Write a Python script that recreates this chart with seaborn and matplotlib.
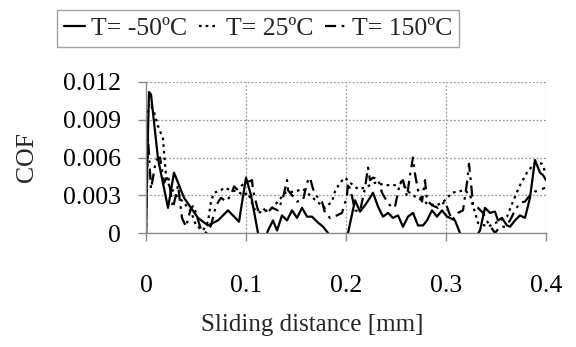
import numpy as np
import pandas as pd
import matplotlib
matplotlib.use("Agg")
import matplotlib.pyplot as plt
import seaborn as sns

sns.set_theme(style='ticks')
plt.rcParams['font.family'] = ['Liberation Serif', 'DejaVu Serif']

# COF vs sliding distance
x_m50 = [0.000, 0.001, 0.003, 0.005, 0.012, 0.022, 0.028, 0.038, 0.052, 0.062, 0.072,
         0.082, 0.093, 0.100, 0.105, 0.112, 0.117, 0.122, 0.127, 0.131, 0.136, 0.141,
         0.146, 0.151, 0.156, 0.161, 0.166, 0.171, 0.177, 0.182, 0.192, 0.202, 0.209,
         0.214, 0.219, 0.224, 0.227, 0.232, 0.237, 0.242, 0.247, 0.252, 0.257, 0.262,
         0.267, 0.272, 0.277, 0.281, 0.286, 0.291, 0.296, 0.301, 0.304, 0.309, 0.314,
         0.324, 0.334, 0.339, 0.344, 0.349, 0.352, 0.356, 0.361, 0.364, 0.369, 0.374,
         0.379, 0.384, 0.389, 0.394, 0.397, 0.400]
y_m50 = [0.0000, 0.0050, 0.0112, 0.0110, 0.0059, 0.0020, 0.0048, 0.0028, 0.0012, 0.0006, 0.0010,
         0.0018, 0.0009, 0.0044, 0.0030, 0.0000, -0.0010, 0.0002, 0.0010, 0.0002, 0.0014, 0.0010,
         0.0018, 0.0012, 0.0020, 0.0013, 0.0013, 0.0009, 0.0005, 0.0000, -0.0020, 0.0000, 0.0026,
         0.0017, 0.0022, 0.0028, 0.0032, 0.0021, 0.0013, 0.0016, 0.0012, 0.0014, 0.0005, 0.0013,
         0.0016, 0.0006, 0.0006, 0.0010, 0.0018, 0.0013, 0.0018, 0.0013, 0.0012, 0.0010, 0.0000,
         -0.0010, 0.0002, 0.0020, 0.0016, 0.0017, 0.0010, 0.0012, 0.0006, 0.0005, 0.0010, 0.0014,
         0.0012, 0.0028, 0.0058, 0.0048, 0.0046, 0.0042]

x_25 = [0.000, 0.002, 0.004, 0.008, 0.012, 0.017, 0.018, 0.020, 0.023, 0.032, 0.037, 0.045,
        0.050, 0.057, 0.062, 0.065, 0.068, 0.075, 0.078, 0.085, 0.092, 0.097, 0.102, 0.109,
        0.116, 0.126, 0.132, 0.139, 0.149, 0.157, 0.164, 0.171, 0.179, 0.186, 0.189, 0.194,
        0.199, 0.204, 0.212, 0.219, 0.229, 0.239, 0.249, 0.256, 0.262, 0.269, 0.276, 0.282,
        0.291, 0.299, 0.306, 0.312, 0.319, 0.324, 0.332, 0.342, 0.352, 0.361, 0.367, 0.374,
        0.381, 0.389, 0.396, 0.400]
y_25 = [0.0000, 0.0100, 0.0103, 0.0096, 0.0085, 0.0075, 0.0064, 0.0046, 0.0038, 0.0028, 0.0025, 0.0017,
        0.0006, 0.0002, 0.0009, 0.0025, 0.0032, 0.0034, 0.0036, 0.0034, 0.0033, 0.0030, 0.0032, 0.0018,
        0.0016, 0.0020, 0.0025, 0.0032, 0.0033, 0.0035, 0.0030, 0.0025, 0.0020, 0.0025, 0.0033, 0.0040,
        0.0044, 0.0040, 0.0035, 0.0036, 0.0040, 0.0038, 0.0038, 0.0040, 0.0033, 0.0029, 0.0026, 0.0023,
        0.0022, 0.0026, 0.0032, 0.0033, 0.0034, 0.0030, 0.0008, 0.0005, 0.0009, 0.0013, 0.0025, 0.0038,
        0.0048, 0.0056, 0.0055, 0.0047]

x_150 = [0.000, 0.002, 0.005, 0.010, 0.014, 0.018, 0.022, 0.027, 0.032, 0.036, 0.040, 0.045,
         0.048, 0.050, 0.055, 0.060, 0.065, 0.070, 0.075, 0.080, 0.085, 0.088, 0.092, 0.096,
         0.100, 0.106, 0.107, 0.112, 0.117, 0.121, 0.126, 0.132, 0.137, 0.141, 0.142, 0.146,
         0.151, 0.157, 0.161, 0.164, 0.167, 0.171, 0.176, 0.179, 0.184, 0.191, 0.196, 0.199,
         0.201, 0.202, 0.206, 0.209, 0.214, 0.219, 0.222, 0.224, 0.227, 0.232, 0.236, 0.241,
         0.246, 0.249, 0.254, 0.257, 0.261, 0.264, 0.267, 0.269, 0.272, 0.276, 0.279, 0.281,
         0.286, 0.292, 0.299, 0.306, 0.312, 0.317, 0.321, 0.323, 0.325, 0.327, 0.332, 0.337,
         0.342, 0.349, 0.354, 0.359, 0.364, 0.369, 0.374, 0.379, 0.384, 0.389, 0.394, 0.399]
y_150 = [0.0000, 0.0075, 0.0035, 0.0058, 0.0060, 0.0040, 0.0046, 0.0020, 0.0038, 0.0012, 0.0005, 0.0020,
         0.0022, 0.0015, 0.0003, 0.0000, 0.0006, 0.0022, 0.0028, 0.0025, 0.0030, 0.0037, 0.0034, 0.0038,
         0.0040, 0.0042, 0.0034, 0.0018, 0.0020, 0.0016, 0.0020, 0.0018, 0.0028, 0.0042, 0.0034, 0.0030,
         0.0025, 0.0026, 0.0040, 0.0044, 0.0035, 0.0029, 0.0025, 0.0016, 0.0012, 0.0014, 0.0016, 0.0024,
         0.0030, 0.0040, 0.0029, 0.0018, 0.0017, 0.0036, 0.0052, 0.0042, 0.0044, 0.0043, 0.0032, 0.0025,
         0.0020, 0.0021, 0.0040, 0.0042, 0.0029, 0.0046, 0.0060, 0.0047, 0.0034, 0.0025, 0.0042, 0.0026,
         0.0022, 0.0020, 0.0025, 0.0010, 0.0016, 0.0018, 0.0040, 0.0055, 0.0040, 0.0022, 0.0020, 0.0016,
         0.0008, 0.0000, 0.0005, 0.0005, 0.0010, 0.0018, 0.0024, 0.0025, 0.0030, 0.0033, 0.0034, 0.0036]

labels = ['T= -50ºC', 'T= 25ºC', 'T= 150ºC']
xticks = [0, 0.1, 0.2, 0.3, 0.4]
xtick_labels = ['0', '0.1', '0.2', '0.3', '0.4']
yticks = [0, 0.003, 0.006, 0.009, 0.012]
ytick_labels = ['0', '0.003', '0.006', '0.009', '0.012']

fig = plt.figure(figsize=(5.76, 3.47), dpi=100)
ax = fig.add_axes([0.2535, 0.3285, 0.6944, 0.4352])

sns.lineplot(x=x_m50, y=y_m50, ax=ax, color='black', lw=1.6, estimator=None,
             linestyle='-', label=labels[0])
sns.lineplot(x=x_25, y=y_25, ax=ax, color='black', lw=1.6, estimator=None,
             linestyle=(0, (1.2, 1.8)), label=labels[1])
sns.lineplot(x=x_150, y=y_150, ax=ax, color='black', lw=1.6, estimator=None,
             linestyle=(0, (5, 2.5, 1.2, 2.5)), label=labels[2])

ax.set_xlim(0, 0.4)
ax.set_ylim(0, 0.012)
ax.set_xticks(xticks)
ax.set_xticklabels(xtick_labels)
ax.set_yticks(yticks)
ax.set_yticklabels(ytick_labels)

# dotted grey grid, solid grey left/bottom axes
ax.grid(True, color='#9a9a9a', linestyle=(0, (1.5, 1.5)), linewidth=0.9)
for side in ['top', 'right']:
    ax.spines[side].set_visible(False)
for side in ['left', 'bottom']:
    ax.spines[side].set_color('#8c8c8c')
    ax.spines[side].set_linewidth(1.0)
ax.tick_params(axis='both', direction='out', length=6, color='#8c8c8c', width=1.0,
               labelsize=18.5, labelcolor='black')
ax.tick_params(axis='x', pad=24)
ax.tick_params(axis='y', pad=12)

ax.set_xlabel('Sliding distance [mm]', fontsize=18)
ax.set_ylabel('COF', fontsize=18.5)
ax.xaxis.set_label_coords(0.415, -0.61)
ax.xaxis.label.set_verticalalignment('center')
ax.yaxis.set_label_coords(-0.2975, 0.5)
ax.yaxis.label.set_verticalalignment('center')

ax.get_legend().remove()
handles, lbls = ax.get_legend_handles_labels()
leg = fig.legend(handles, lbls, loc='center', bbox_to_anchor=(0.448, 0.918), ncol=3,
                 fontsize=18.5, frameon=True, fancybox=False, handlelength=0.8,
                 handletextpad=0.25, columnspacing=0.45, borderpad=0.28, borderaxespad=0)
leg.get_frame().set_edgecolor('#8c8c8c')
leg.get_frame().set_linewidth(1.0)

fig.savefig('out.png', dpi=100)
